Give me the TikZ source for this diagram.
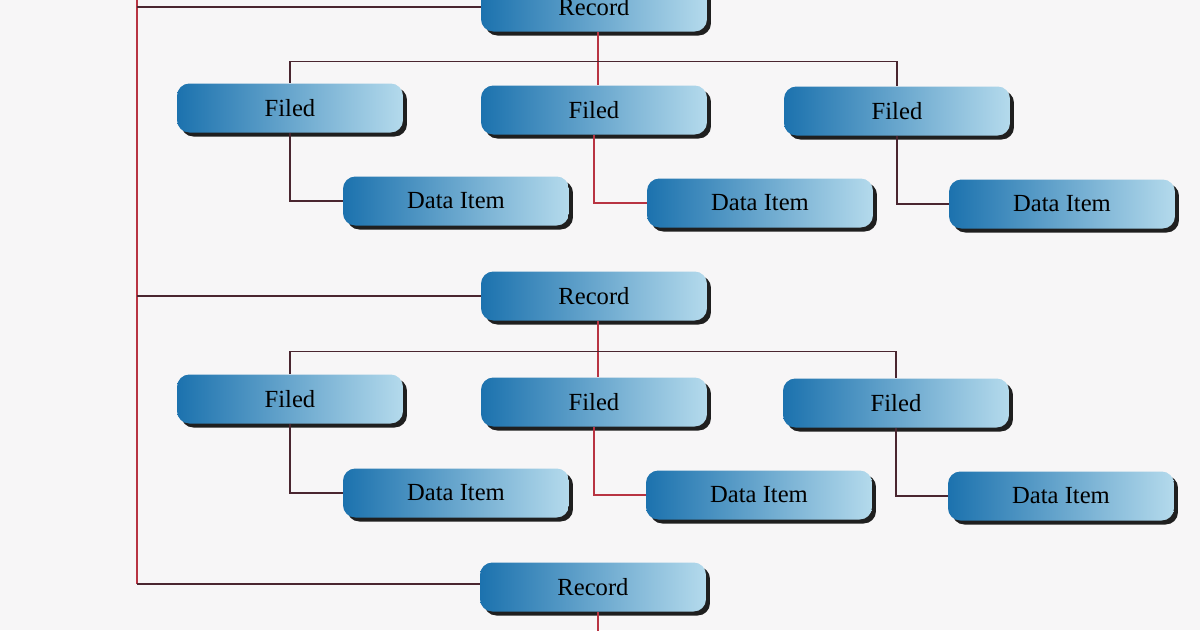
\documentclass[tikz,border=0pt]{standalone}
\usepackage{fontspec}
\setmainfont{Liberation Serif}
\usetikzlibrary{shadows}
\definecolor{bg}{HTML}{F7F6F7}
\definecolor{boxdark}{HTML}{1C72AE}
\definecolor{boxlight}{HTML}{B4DAEC}
\definecolor{linedark}{HTML}{4A2630}
\definecolor{linered}{HTML}{B83442}
\tikzset{
  box/.style={rounded corners=7pt, left color=boxdark, right color=boxlight,
    minimum width=4.52cm, minimum height=0.98cm, inner sep=0pt,
    font=\fontsize{14}{16}\selectfont, text=black,
    drop shadow={shadow xshift=0.08cm, shadow yshift=-0.08cm, fill=black!88, opacity=1}},
  conn/.style={draw=linedark, line width=0.7pt},
  connred/.style={draw=linered, line width=0.7pt}
}
\begin{document}
\begin{tikzpicture}[x=0.02cm, y=-0.02cm]
\fill[bg] (0,0) rectangle (1200,630);
\useasboundingbox (0,0) rectangle (1200,630);
% records
\node[box] (r1) at (594,7) {Record};
\node[box] (r2) at (594,296) {Record};
\node[box] (r3) at (593,587) {Record};
% row 1
\node[box] (f1a) at (290,108) {Filed};
\node[box] (f1b) at (594,110) {Filed};
\node[box] (f1c) at (897,111) {Filed};
\node[box] (d1a) at (456,201) {Data Item};
\node[box] (d1b) at (760,203) {Data Item};
\node[box] (d1c) at (1062,204) {Data Item};
% row 2
\node[box] (f2a) at (290,399) {Filed};
\node[box] (f2b) at (594,402) {Filed};
\node[box] (f2c) at (896,403) {Filed};
\node[box] (d2a) at (456,493) {Data Item};
\node[box] (d2b) at (759,495) {Data Item};
\node[box] (d2c) at (1061,496) {Data Item};
% left spine
\coordinate (L0) at (137,0);
\coordinate (L3) at (137,584);
\draw[connred] (L0) -- (L3);
\draw[conn] (L3) -- (L3 -| r3.west);
\draw[conn] (r1.west) -- (r1.west -| L0);
\draw[conn] (r2.west) -- (r2.west -| L0);
% record to fields
\draw[connred] ([xshift=2.3pt]r1.south) -- ([xshift=2.3pt]f1b.north);
\draw[conn] (f1a.north) -- ++(0,-22) -| (f1c.north);
\draw[connred] ([xshift=2.3pt]r2.south) -- ([xshift=2.3pt]f2b.north);
\draw[conn] (f2a.north) -- ++(0,-23) -| (f2c.north);
\draw[connred] ([xshift=2.8pt]r3.south) -- ++(0,20);
% fields to data items
\draw[conn] (f1a.south) |- (d1a.west);
\draw[connred] (f1b.south) |- (d1b.west);
\draw[conn] (f1c.south) |- (d1c.west);
\draw[conn] (f2a.south) |- (d2a.west);
\draw[connred] (f2b.south) |- (d2b.west);
\draw[conn] (f2c.south) |- (d2c.west);
\end{tikzpicture}
\end{document}
